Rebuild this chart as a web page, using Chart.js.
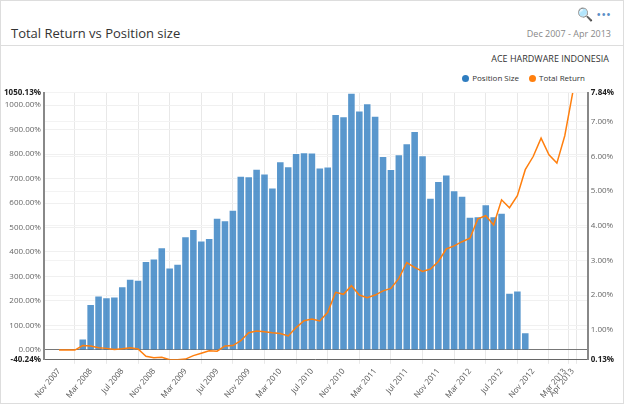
<!DOCTYPE html>
<html><head><meta charset="utf-8">
<script src="https://cdn.jsdelivr.net/npm/chart.js@4"></script>
<style>
body{margin:0;font-family:"Open Sans",Arial,sans-serif;background:#fff;}
#card{position:absolute;left:0;top:0;width:622px;height:402px;border:1px solid #ddd;}
#title{position:absolute;left:10px;top:23px;font-size:13px;color:#333;}
#dates{position:absolute;right:12px;top:26px;font-size:9px;color:#888;}
#icons{position:absolute;right:12px;top:4px;font-size:13px;color:#5b8fc7;}
#sep{position:absolute;left:0;right:0;top:44px;border-top:1px solid #ddd;}
#company{position:absolute;right:14px;top:51px;font-size:9px;color:#333;}
#legend{position:absolute;right:38px;top:71px;font-size:8px;color:#333;}
#legend span.dot{display:inline-block;width:7px;height:7px;border-radius:50%;margin:0 3px 0 10px;vertical-align:-1px;}
#wrap{position:absolute;left:0;top:84px;width:622px;height:318px;}
</style></head><body>
<div id="card">
<div id="icons">&#128269; &bull;&bull;&bull;</div>
<div id="title">Total Return vs Position size</div>
<div id="dates">Dec 2007 - Apr 2013</div>
<div id="sep"></div>
<div id="company">ACE HARDWARE INDONESIA</div>
<div id="legend"><span class="dot" style="background:#2f7dc0"></span>Position Size<span class="dot" style="background:#ff7f0e"></span>Total Return</div>
<div id="wrap"><canvas id="c"></canvas></div>
</div>
<script>
var months = [];
var names = ["Jan","Feb","Mar","Apr","May","Jun","Jul","Aug","Sep","Oct","Nov","Dec"];
for (var i = 0; i < 66; i++) {
    var m = (10 + i) % 12;
    var y = 2007 + Math.floor((10 + i) / 12);
    months.push(names[m] + " " + y);
}
var barStart = 3;
var positionSize = [45,186,221,214,217,259,289,285,362,372,418,335,351,463,493,446,456,539,528,571,
    710,708,739,719,662,769,749,803,806,805,744,748,962,953,1049,976,1006,955,791,738,798,843,893,794,
    620,689,715,651,628,543,545,594,545,559,232,241,71];
var totalReturn = [0.41,0.41,0.41,0.54,0.53,0.48,0.46,0.43,0.45,0.48,0.44,0.23,0.19,0.20,0.13,0.13,0.15,
    0.25,0.32,0.39,0.38,0.53,0.54,0.68,0.91,0.96,0.94,0.91,0.89,0.82,1.06,
    1.26,1.31,1.25,1.50,2.08,2.02,2.27,2.00,1.92,2.00,2.12,2.19,2.48,2.94,2.80,2.68,2.75,2.97,3.33,
    3.42,3.54,3.64,4.20,4.29,4.02,4.75,4.52,4.87,5.62,6.00,6.53,6.05,5.81,6.60,7.84];
var xTicks = [0,4,8,12,16,20,24,28,32,36,40,44,48,52,56,60,64,65];
var leftTicks = [-40.24,0,100,200,300,400,500,600,700,800,900,1000,1050.13];
var rightTicks = [0.13,1,2,3,4,5,6,7,7.84];

var bars = positionSize.map(function (v, i) { return {x: barStart + i, y: v}; });
var line = totalReturn.map(function (v, i) { return {x: i, y: v}; });

function setTicks(list) {
    return function (axis) { axis.ticks = list.map(function (v) { return {value: v}; }); };
}
function isEdge(ctx, list) {
    var v = ctx.tick ? ctx.tick.value : null;
    return v === list[0] || v === list[list.length - 1];
}
function edgeFont(list) {
    return function (ctx) {
        return {size: 8, weight: isEdge(ctx, list) ? 'bold' : 'normal', family: 'Open Sans'};
    };
}
function edgeColor(list) {
    return function (ctx) { return isEdge(ctx, list) ? '#222' : '#666'; };
}

new Chart(document.getElementById('c'), {
    data: {
        datasets: [{
            type: 'line', label: 'Total Return', data: line, yAxisID: 'yr',
            borderColor: '#ff7f0e', borderWidth: 1.5, pointRadius: 0, tension: 0, order: 0
        }, {
            type: 'bar', label: 'Position Size', data: bars, yAxisID: 'yl',
            backgroundColor: 'rgba(47,125,192,0.8)', borderColor: 'rgba(255,255,255,0.6)',
            borderWidth: 1, barPercentage: 1, categoryPercentage: 1, order: 1
        }]
    },
    options: {
        responsive: true, maintainAspectRatio: false, animation: false,
        layout: {padding: {top: 4, right: 6, left: 0}},
        plugins: {legend: {display: false}, tooltip: {enabled: false}},
        scales: {
            x: {
                type: 'linear', min: 0, max: 65, afterBuildTicks: setTicks(xTicks),
                ticks: {
                    autoSkip: false, maxRotation: 50, minRotation: 50,
                    font: {size: 8, family: 'Open Sans'}, color: '#555',
                    callback: function (v) { return months[v]; }
                },
                grid: {color: '#e8e8e8', drawTicks: true, tickLength: 4},
                border: {color: '#666'}
            },
            yl: {
                position: 'left', min: -40.24, max: 1050.13, afterBuildTicks: setTicks(leftTicks),
                ticks: {
                    font: edgeFont(leftTicks), color: edgeColor(leftTicks), padding: 3,
                    callback: function (v) { return v.toFixed(2) + '%'; }
                },
                grid: {
                    color: function (ctx) { return ctx.tick && ctx.tick.value === 0 ? '#777' : '#f0f0f0'; },
                    drawTicks: false
                },
                border: {color: '#888', width: 2}
            },
            yr: {
                position: 'right', min: 0.13, max: 7.84, afterBuildTicks: setTicks(rightTicks),
                ticks: {
                    font: edgeFont(rightTicks), color: edgeColor(rightTicks), padding: 3,
                    callback: function (v) { return v.toFixed(2) + '%'; }
                },
                grid: {color: '#f3f3f3', drawTicks: false},
                border: {color: '#888', width: 2}
            }
        }
    }
});
</script>
</body></html>
